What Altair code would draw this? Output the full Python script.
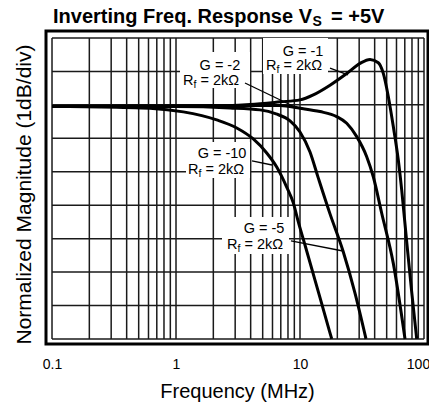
import altair as alt
import pandas as pd

FONT = "Liberation Sans"

# ---- curve data: frequency (MHz), normalized magnitude (dB) ----
g1_freq = [0.1, 1.56, 3.95, 6.9, 10, 12.8, 17.46, 23.81, 30.47, 36.69, 42.81, 46.97, 51.53, 56.56, 62.05, 66.12, 72.28, 79.3, 87.33]
g1_db = [-0.05, -0.04, 0.01, 0.09, 0.15, 0.30, 0.59, 0.94, 1.24, 1.36, 1.26, 0.94, 0.25, -0.65, -1.65, -2.55, -4.04, -5.54, -7.0]

g2_freq = [0.1, 1.56, 4.76, 6.9, 10, 14.5, 19.77, 23.81, 28.67, 34.51, 39.0, 45.6, 56.56, 70.29]
g2_db = [-0.05, -0.03, -0.02, -0.02, -0.10, -0.20, -0.35, -0.55, -0.95, -1.55, -2.15, -3.24, -4.74, -7.0]

g5_freq = [0.1, 1.0, 2.73, 4.76, 6.41, 8.31, 10, 12.04, 13.97, 17.46, 22.23, 27.76, 34.07]
g5_db = [-0.05, -0.05, -0.09, -0.15, -0.27, -0.48, -0.81, -1.41, -2.16, -3.26, -4.37, -5.63, -7.0]

g10_freq = [0.1, 0.244, 0.617, 1.145, 2.13, 3.09, 4.2, 5.39, 6.49, 7.81, 8.83, 9.69, 10.97, 13.21, 15.62, 18.02]
g10_db = [-0.05, -0.06, -0.10, -0.21, -0.45, -0.69, -1.02, -1.44, -1.86, -2.46, -2.93, -3.50, -4.19, -5.24, -6.19, -7.0]

# ---- grid ----
v_grid = [0.1, 0.2, 0.3, 0.4, 0.5, 0.6, 0.7, 0.8, 0.9,
          1, 2, 3, 4, 5, 6, 7, 8, 9,
          10, 20, 30, 40, 50, 60, 70, 80, 90, 100]
h_grid = [2, 1, 0, -1, -2, -3, -4, -5, -6, -7]
x_ticks = [0.1, 1, 10, 100]

# ---- annotations (data coordinates) ----
lab_g = ["G = -1", "G = -2", "G = -10", "G = -5"]
lab_g_f = [10.57, 2.26, 2.35, 5.13]
lab_g_db = [1.46, 1.04, -1.59, -3.83]
lab_r_f = [5.32, 1.139, 1.25, 2.578]
lab_r_db = [1.04, 0.594, -2.067, -4.31]
lead_f1 = [17.46, 3.60, 4.10, 8.46]
lead_db1 = [1.10, 0.654, -1.678, -4.07]
lead_f2 = [24.38, 9.46, 5.95, 22.23]
lead_db2 = [0.894, -0.093, -1.798, -4.37]
box_f1 = [5.03, 1.077, 1.204, 2.349]
box_f2 = [16.82, 3.953, 3.953, 8.155]
box_db1 = [2.0, 1.581, -1.11, -3.353]
box_db2 = [0.923, 0.505, -2.187, -4.459]

title_main = "Inverting Freq. Response V"
title_sub = "S"
title_end = "= +5V"

# ---- build tables ----
curves = pd.concat([
    pd.DataFrame({"f": g1_freq, "db": g1_db, "curve": "G=-1"}),
    pd.DataFrame({"f": g2_freq, "db": g2_db, "curve": "G=-2"}),
    pd.DataFrame({"f": g5_freq, "db": g5_db, "curve": "G=-5"}),
    pd.DataFrame({"f": g10_freq, "db": g10_db, "curve": "G=-10"}),
])
vg = pd.DataFrame({"f": v_grid, "db": [-7] * len(v_grid), "db2": [2] * len(v_grid)})
hg = pd.DataFrame({"db": h_grid, "f": [0.1] * len(h_grid), "f2": [100] * len(h_grid)})
labs = pd.DataFrame({
    "g": lab_g, "gf": lab_g_f, "gdb": lab_g_db,
    "rf": lab_r_f, "rdb": lab_r_db,
    "lf1": lead_f1, "ldb1": lead_db1, "lf2": lead_f2, "ldb2": lead_db2,
    "bf1": box_f1, "bf2": box_f2, "bdb1": box_db1, "bdb2": box_db2,
})

xs = alt.Scale(type="log", domain=[0.08944, 107.71], nice=False)
ys = alt.Scale(domain=[-7.151, 2.209], nice=False, zero=False)

x_axis = alt.Axis(values=x_ticks, format="~g", grid=False, ticks=False, tickSize=0,
                  domain=False, labelFont=FONT, labelFontSize=14, labelColor="black",
                  labelPadding=24, labelBaseline="alphabetic", labelFlush=False,
                  labelOffset={"condition": {"test": "datum.value >= 100", "value": -6},
                               "value": 0},
                  title="Frequency (MHz)", titleFont=FONT, titleFontSize=20,
                  titleFontWeight="normal", titleColor="black", titleY=53.7,
                  titleBaseline="alphabetic")
y_axis = alt.Axis(labels=False, ticks=False, domain=False, grid=False,
                  title="Normalized Magnitude (1dB/div)", titleFont=FONT,
                  titleFontSize=21, titleFontWeight="normal", titleColor="black",
                  titleX=-16, titleY=163, titleBaseline="alphabetic", titleAlign="center")

GRID = "#1a1a1a"
LFS = 14.5

vgrid = alt.Chart(vg).mark_rule(color=GRID, strokeWidth=1.5).encode(
    x=alt.X("f:Q", scale=xs, axis=x_axis),
    y=alt.Y("db:Q", scale=ys, axis=y_axis),
    y2="db2:Q",
)
hgrid = alt.Chart(hg).mark_rule(color=GRID, strokeWidth=1.5).encode(
    x=alt.X("f:Q", scale=xs), x2="f2:Q", y=alt.Y("db:Q", scale=ys)
)
boxes = alt.Chart(labs).mark_rect(color="white").encode(
    x=alt.X("bf1:Q", scale=xs), x2="bf2:Q", y=alt.Y("bdb1:Q", scale=ys), y2="bdb2:Q"
)
lines = alt.Chart(curves).mark_line(color="black", strokeWidth=3, interpolate="monotone").encode(
    x=alt.X("f:Q", scale=xs), y=alt.Y("db:Q", scale=ys), detail="curve:N"
)
leaders = alt.Chart(labs).mark_rule(color="black", strokeWidth=1.3).encode(
    x=alt.X("lf1:Q", scale=xs), x2="lf2:Q", y=alt.Y("ldb1:Q", scale=ys), y2="ldb2:Q"
)
gtext = alt.Chart(labs).mark_text(font=FONT, fontSize=LFS, align="center",
                                  baseline="alphabetic", color="black").encode(
    x=alt.X("gf:Q", scale=xs), y=alt.Y("gdb:Q", scale=ys), text="g:N"
)
rtext = alt.Chart(labs).mark_text(font=FONT, fontSize=LFS, align="left",
                                  baseline="alphabetic", color="black").encode(
    x=alt.X("rf:Q", scale=xs), y=alt.Y("rdb:Q", scale=ys), text=alt.value("R")
)
ftext = alt.Chart(labs).mark_text(font=FONT, fontSize=10.5, align="left", dx=10.4, dy=3,
                                  baseline="alphabetic", color="black").encode(
    x=alt.X("rf:Q", scale=xs), y=alt.Y("rdb:Q", scale=ys), text=alt.value("f")
)
etext = alt.Chart(labs).mark_text(font=FONT, fontSize=LFS, align="left", dx=17.5,
                                  baseline="alphabetic", color="black").encode(
    x=alt.X("rf:Q", scale=xs), y=alt.Y("rdb:Q", scale=ys), text=alt.value("= 2kΩ")
)

tdf = pd.DataFrame({"a": [title_main], "b": [title_sub], "c": [title_end]})
t1 = alt.Chart(tdf).mark_text(font=FONT, fontSize=20, fontWeight="bold", align="right",
                              baseline="alphabetic", color="black").encode(
    x=alt.value(266), y=alt.value(-8.5), text="a:N")
t2 = alt.Chart(tdf).mark_text(font=FONT, fontSize=14, fontWeight="bold", align="left",
                              baseline="alphabetic", color="black").encode(
    x=alt.value(266.5), y=alt.value(-5), text="b:N")
t3 = alt.Chart(tdf).mark_text(font=FONT, fontSize=20, fontWeight="bold", align="left",
                              baseline="alphabetic", color="black").encode(
    x=alt.value(285), y=alt.value(-8.5), text="c:N")

chart = alt.layer(vgrid, hgrid, boxes, lines, leaders, gtext, rtext, ftext, etext, t1, t2, t3).properties(
    width=382, height=313,
    autosize=alt.AutoSizeParams(type="none"),
    padding={"left": 38, "top": 23, "right": 1, "bottom": 60},
).configure_view(stroke="black", strokeWidth=3)

chart.save("out.html", embed_options={"renderer": "svg", "actions": False})
